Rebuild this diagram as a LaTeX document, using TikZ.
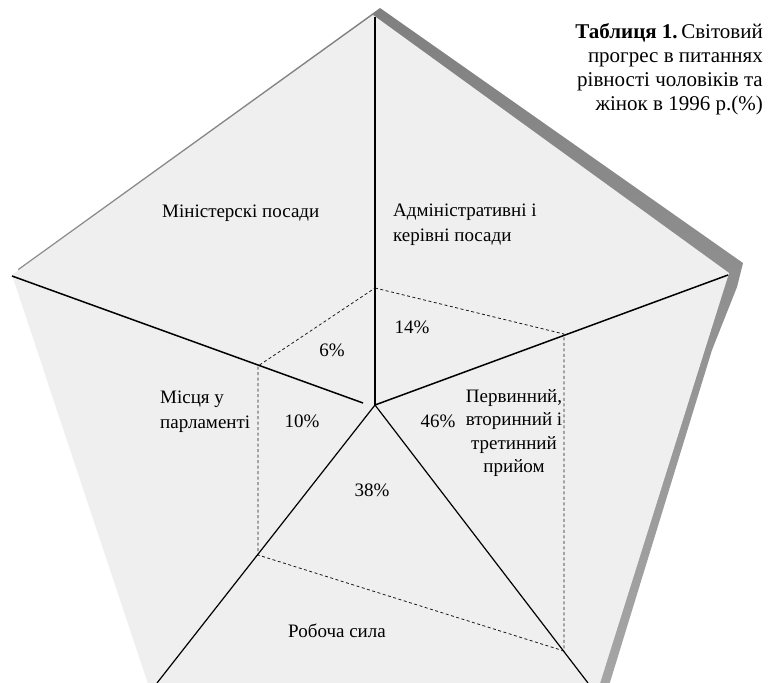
\documentclass[tikz,border=0pt]{standalone}
\usepackage{fontspec}
\setmainfont{Liberation Serif}
\definecolor{pentfill}{RGB}{239,239,239}
\definecolor{shadcol}{RGB}{128,128,128}
\begin{document}
\begin{tikzpicture}[x=1pt,y=-1pt,
  lbl/.style={inner sep=0pt, font=\fontsize{19}{24.5}\selectfont},
  pct/.style={inner sep=0pt, anchor=base, font=\fontsize{19}{24.5}\selectfont},
  axisline/.style={line width=1.5pt, black},
  axisthin/.style={line width=1.2pt, black},
  dataline/.style={line width=0.8pt, dash pattern=on 3pt off 2.5pt, black!90}]
\useasboundingbox (0,0) rectangle (770,682);
\clip (0,0) rectangle (770,682);
% shadow
\shade[top color=shadcol, bottom color=shadcol!70!white]
  (380,8) -- (743,263) -- (737,287) -- (712,350) -- (607,692) -- (160,692) -- (18,269) -- cycle;
% pentagon
\fill[pentfill] (373,15) -- (729,273) -- (596,696) -- (152,696) -- (12,275) -- cycle;
% coordinates
\coordinate (C) at (375,405);
\coordinate (T) at (375,17);
\coordinate (UR) at (728,275);
\coordinate (UL) at (12,276);
\coordinate (ULin) at (363,403);
\coordinate (LL) at (157,683);
\coordinate (LR) at (588,683);
\coordinate (A) at (375,288);
\coordinate (B) at (564,334);
\coordinate (D) at (564,651);
\coordinate (E) at (258,555);
\coordinate (F) at (258,366);
% data polygon
\draw[dataline] (A) -- (B) -- (D) -- (E) -- (F) -- cycle;
% axes
\draw[axisline] (C) -- (T);
\draw[axisline] (C) -- (UR);
\draw[axisline] (ULin) -- (UL);
\draw[axisthin] (C) -- (LL);
\draw[axisthin] (C) -- (LR);
% labels
\node[lbl, anchor=base west] (min) at (162,217) {Міністерскі посади};
\node[lbl, anchor=north west, align=left] (adm) at (393,204) {Адміністративні і\\керівні посади};
\node[lbl, anchor=north west, align=left] (mis) at (160,391) {Місця у\\парламенті};
\node[lbl, anchor=north, align=center, font=\fontsize{19}{23.5}\selectfont] (perv) at (514,389) {Первинний,\\вторинний і\\третинний\\прийом};
\node[lbl, anchor=base] (rob) at (337,637) {Робоча сила};
\node[pct] (p14) at (412,333) {14\%};
\node[pct] (p6) at (332,356) {6\%};
\node[pct] (p10) at (302,427) {10\%};
\node[pct] (p46) at (438,427) {46\%};
\node[pct] (p38) at (372,496) {38\%};
\node[inner sep=0pt, anchor=north east, align=right, font=\fontsize{21}{24}\selectfont] (title) at (763,23)
  {\textbf{Таблиця 1.}\,Світовий\\прогрес в питаннях\\рівності чоловіків та\\жінок в 1996 р.(\%)};
\end{tikzpicture}
\end{document}
